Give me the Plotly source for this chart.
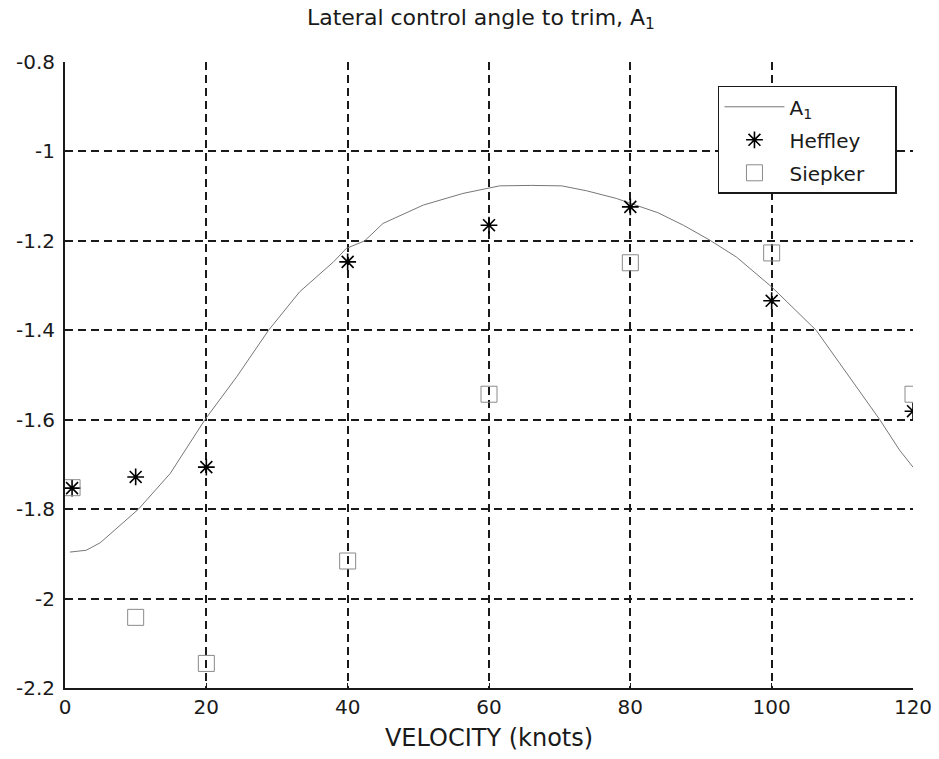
import plotly.graph_objects as go

# A1 curve
curve_v = [0.7, 3.0, 5.0, 10.4, 14.9, 19.8, 24.3, 28.8, 33.2, 38.0, 39.8, 42.4, 45.0, 50.7,
           56.3, 60.0, 61.5, 66.0, 70.3, 73.8, 78.0, 80.0, 83.9, 87.5, 91.2, 95.0, 100.0,
           106.3, 111.0, 115.3, 118.1, 120.0]
curve_a1 = [-1.896, -1.892, -1.875, -1.800, -1.720, -1.600, -1.504, -1.400, -1.314, -1.247,
            -1.217, -1.200, -1.161, -1.120, -1.094, -1.083, -1.077, -1.076, -1.077, -1.088,
            -1.105, -1.116, -1.137, -1.165, -1.198, -1.236, -1.303, -1.400, -1.504, -1.600,
            -1.668, -1.706]

heffley_v = [1, 10, 20, 40, 60, 80, 100, 120]
heffley_a1 = [-1.753, -1.728, -1.706, -1.247, -1.165, -1.124, -1.334, -1.581]

siepker_v = [1, 10, 20, 40, 60, 80, 100, 120]
siepker_a1 = [-1.752, -2.042, -2.145, -1.916, -1.543, -1.249, -1.227, -1.543]

x_ticks = [0, 20, 40, 60, 80, 100, 120]
y_ticks = [-0.8, -1, -1.2, -1.4, -1.6, -1.8, -2, -2.2]

FONT = "DejaVu Sans, sans-serif"
PAD = "\u00a0" * 4

fig = go.Figure()
fig.add_trace(go.Scatter(x=curve_v, y=curve_a1, mode="lines", name="A<sub>1</sub>",
                         legendgroup="a", line=dict(color="#777777", width=1)))
fig.add_trace(go.Scatter(x=heffley_v, y=heffley_a1, mode="markers", name="Heffley",
                         legendgroup="h",
                         marker=dict(symbol="asterisk-open", size=14, color="black",
                                     line=dict(color="black", width=1.6))))
fig.add_trace(go.Scatter(x=siepker_v, y=siepker_a1, mode="markers", name="Siepker" + PAD,
                         legendgroup="s",
                         marker=dict(symbol="square-open", size=16, color="#8a8a8a",
                                     line=dict(color="#8a8a8a", width=1))))

axis_common = dict(showgrid=True, gridcolor="#1a1a1a", griddash="8px,5px", gridwidth=1.6,
                   showline=True, linecolor="#1a1a1a", linewidth=2, ticks="inside",
                   ticklen=5, tickcolor="#1a1a1a", zeroline=False, automargin=False,
                   tickfont=dict(family=FONT, size=20, color="#1a1a1a"))

fig.update_layout(
    width=939, height=759,
    margin=dict(l=65, r=26, t=62, b=71, autoexpand=False),
    paper_bgcolor="white", plot_bgcolor="white",
    title=dict(text="Lateral control angle to trim, A<sub>1</sub>", xref="paper", x=0.4905,
               xanchor="center", y=0.988, yanchor="top",
               font=dict(family=FONT, size=22, color="#1a1a1a")),
    xaxis=dict(range=[0, 120], tickvals=x_ticks, **axis_common,
               title=dict(text="VELOCITY (knots)", standoff=11,
                          font=dict(family=FONT, size=24, color="#1a1a1a"))),
    yaxis=dict(range=[-2.2, -0.8], tickvals=y_ticks, ticktext=[str(t) for t in y_ticks],
               ticklabelstandoff=4, **axis_common),
    legend=dict(x=0.770, y=0.962, xanchor="left", yanchor="top", bgcolor="white",
                bordercolor="#1a1a1a", borderwidth=1.5, tracegroupgap=4,
                itemwidth=60,
                font=dict(family=FONT, size=20, color="#1a1a1a")),
    showlegend=True,
)

fig.write_html("out.html")
